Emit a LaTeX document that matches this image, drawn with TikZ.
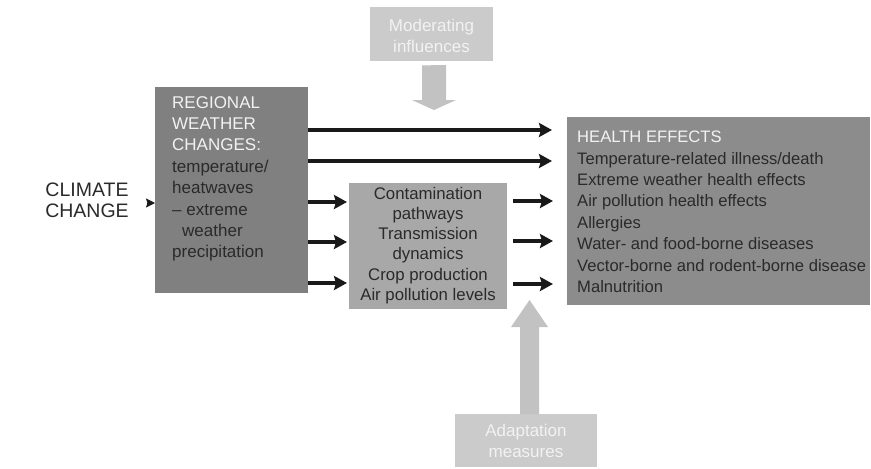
\documentclass[tikz,border=0pt]{standalone}
\usepackage{fontspec}
\setmainfont{Liberation Sans}
\usetikzlibrary{arrows.meta}
\definecolor{regfill}{HTML}{808080}
\definecolor{midfill}{HTML}{A8A8A8}
\definecolor{healthfill}{HTML}{8C8C8C}
\definecolor{softfill}{HTML}{CBCBCB}
\definecolor{softarrow}{HTML}{C2C2C2}
\definecolor{ink}{HTML}{2A2A2A}
\definecolor{lightink}{HTML}{F2F2F2}
\tikzset{
  box/.style={draw=none, inner sep=0pt, anchor=north west},
  txt/.style={inner sep=0pt, text=ink, font=\fontsize{16.6}{21.4}\selectfont},
  arr/.style={line width=3.3pt, draw=black!90, -{Stealth[length=13pt,width=14pt,inset=2pt]}},
  tiparr/.style={-{Stealth[length=9pt,width=9pt,inset=1.5pt]}, line width=1pt, draw=black!90},
  bigarrow/.style={fill=softarrow, draw=none},
}
\begin{document}
\begin{tikzpicture}[x=1pt,y=-1pt]
\useasboundingbox[fill=white] (0,0) rectangle (871,469);

% boxes
\node[box, fill=regfill, minimum width=153pt, minimum height=206pt] (reg) at (155,87) {};
\node[box, fill=midfill, minimum width=158pt, minimum height=126pt] (mid) at (349,183) {};
\node[box, fill=healthfill, minimum width=303pt, minimum height=188pt] (health) at (567,117) {};
\node[box, fill=softfill, minimum width=123pt, minimum height=54pt] (mod) at (370,7) {};
\node[box, fill=softfill, minimum width=142pt, minimum height=53pt] (adapt) at (455,414) {};

% texts
\node[txt, font=\fontsize{19.5}{21.5}\selectfont, align=center] (cc) at (87,200.5) {CLIMATE\\CHANGE};
\node[txt, anchor=north west, align=left, font=\fontsize{17}{21.4}\selectfont] (regtxt) at (172,96) {%
  \textcolor{lightink}{REGIONAL}\\
  \textcolor{lightink}{WEATHER}\\
  \textcolor{lightink}{CHANGES:}\\
  temperature/\\
  heatwaves\\
  -- extreme\\
  \hspace{10pt}weather\\
  precipitation};
\node[txt, align=center, font=\fontsize{16.8}{20.2}\selectfont] (midtxt) at (428,245.5) {%
  Contamination\\pathways\\Transmission\\dynamics\\Crop production\\Air pollution levels};
\node[txt, anchor=north west, align=left] (healthtxt) at (577,131) {%
  \textcolor{lightink}{HEALTH EFFECTS}\\
  Temperature-related illness/death\\
  Extreme weather health effects\\
  Air pollution health effects\\
  Allergies\\
  Water- and food-borne diseases\\
  Vector-borne and rodent-borne disease\\
  Malnutrition};
\node[txt, text=lightink, align=center, font=\fontsize{17}{21.4}\selectfont] (modtxt) at (431.5,36) {Moderating\\influences};
\node[txt, text=lightink, align=center, font=\fontsize{17}{21.4}\selectfont] (adapttxt) at (526,441) {Adaptation\\measures};

% broad grey arrows
\path[bigarrow] (mod.south -| 422,0) ++(0,4)
  -- (422,100) -- (412,100) -- (434,110) -- (456,100) -- (446,100) -- (446,65) -- cycle;
\path[bigarrow] (adapt.north -| 520,0) -- (520,327) -- (511,327) -- (529.5,300)
  -- (548,327) -- (539,327) -- (539,414) -- cycle;

% climate change into regional weather
\coordinate (ccin) at (147,203);
\draw[tiparr] (ccin) -- (reg.west |- ccin);

% regional weather straight to health effects
\foreach \y in {130,161} {
  \draw[arr] (reg.east |- 0,\y) -- ([xshift=-15pt]health.west |- 0,\y);
}
% regional weather into intermediate pathways
\foreach \y in {202,242,283} {
  \draw[arr] (reg.east |- 0,\y) -- ([xshift=-2pt]mid.west |- 0,\y);
}
% intermediate pathways to health effects
\foreach \y in {201,241,284} {
  \draw[arr] ([xshift=6pt]mid.east |- 0,\y) -- ([xshift=-14pt]health.west |- 0,\y);
}
\end{tikzpicture}
\end{document}
